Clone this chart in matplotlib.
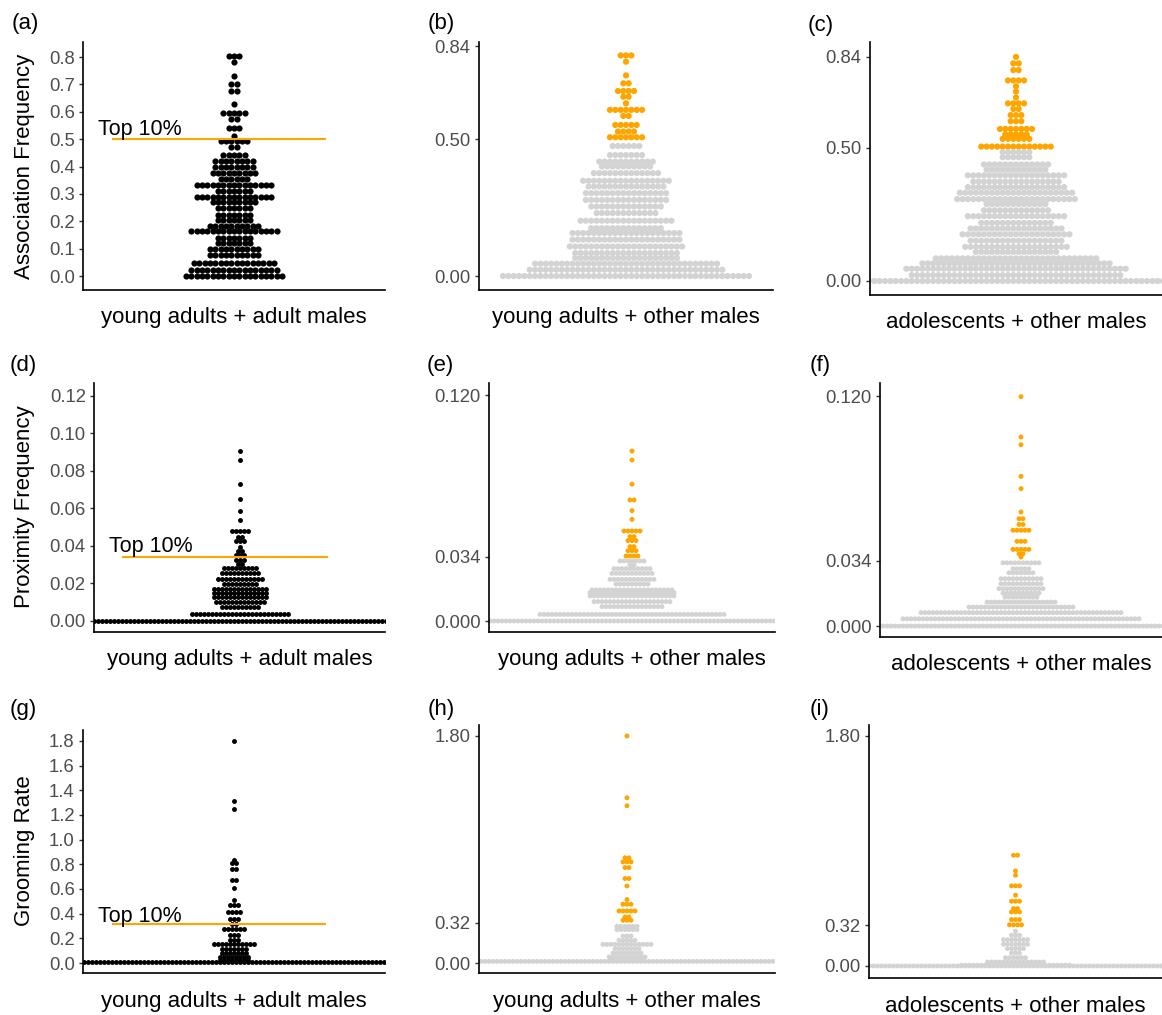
import matplotlib.pyplot as plt
import numpy as np

plt.rcParams['font.family'] = ['Liberation Sans', 'DejaVu Sans']

W, H, DPI = 1162, 1015, 100
ORANGE = '#FFA500'
GREY = '#D3D3D3'

# ---- swarm rows: value of each row and number of dots in it ----
# association frequency
a_levels = [0.805, 0.782, 0.732, 0.703, 0.676, 0.630, 0.597, 0.573, 0.541, 0.512,
            0.493, 0.472, 0.442, 0.420, 0.399, 0.375, 0.353, 0.333, 0.312, 0.290,
            0.270, 0.248, 0.223, 0.203, 0.181, 0.163, 0.138, 0.120, 0.098, 0.077,
            0.047, 0.023, 0.000]
a_counts = [3, 1, 1, 2, 2, 1, 5, 2, 3, 1,
            6, 2, 5, 8, 8, 9, 6, 15, 7, 15,
            9, 7, 7, 7, 10, 17, 7, 7, 10, 10,
            16, 17, 19]

b_levels = [0.806, 0.783, 0.733, 0.704, 0.676, 0.655, 0.631, 0.607, 0.585, 0.552,
            0.528, 0.507, 0.475, 0.442, 0.418, 0.400, 0.376, 0.348, 0.327, 0.303,
            0.278, 0.254, 0.230, 0.202, 0.175, 0.157, 0.133, 0.108, 0.084, 0.066,
            0.045, 0.023, 0.000]
b_counts = [3, 1, 1, 2, 4, 2, 1, 7, 2, 5,
            4, 7, 6, 7, 11, 10, 13, 17, 15, 16,
            16, 14, 12, 18, 14, 21, 21, 22, 20, 20,
            35, 37, 47]

c_levels = [0.840, 0.816, 0.791, 0.752, 0.730, 0.710, 0.688, 0.666, 0.645, 0.622,
            0.599, 0.570, 0.550, 0.533, 0.504, 0.483, 0.464, 0.437, 0.417, 0.396,
            0.373, 0.352, 0.331, 0.307, 0.288, 0.265, 0.243, 0.218, 0.197, 0.175,
            0.151, 0.128, 0.109, 0.085, 0.066, 0.046, 0.022, 0.000]
c_counts = [1, 2, 2, 4, 1, 1, 1, 4, 2, 3,
            3, 7, 5, 6, 14, 6, 6, 13, 12, 19,
            17, 19, 22, 23, 12, 13, 19, 14, 18, 21,
            18, 20, 16, 31, 36, 42, 40, 56]

# proximity frequency
d_levels = [0.0905, 0.0857, 0.0730, 0.0648, 0.0588, 0.0541, 0.0479, 0.0446, 0.0428, 0.0396,
            0.0375, 0.0351, 0.0325, 0.0302, 0.0280, 0.0254, 0.0222, 0.0197, 0.0168, 0.0147,
            0.0130, 0.0103, 0.0076, 0.0036, 0.0000]
d_counts = [1, 1, 1, 1, 1, 1, 5, 2, 3, 1,
            2, 3, 3, 2, 9, 10, 12, 9, 14, 14,
            14, 13, 10, 25, 80]

e_levels = [0.0903, 0.0855, 0.0727, 0.0643, 0.0586, 0.0540, 0.0478, 0.0448, 0.0427, 0.0395,
            0.0373, 0.0345, 0.0319, 0.0297, 0.0278, 0.0253, 0.0221, 0.0196, 0.0165, 0.0150,
            0.0133, 0.0103, 0.0076, 0.0035, 0.0000]
e_counts = [1, 1, 1, 2, 1, 1, 5, 2, 3, 2,
            3, 4, 7, 2, 10, 11, 12, 9, 21, 22,
            22, 20, 16, 47, 80]

f_levels = [0.1197, 0.0986, 0.0946, 0.0781, 0.0717, 0.0595, 0.0560, 0.0530, 0.0500, 0.0442,
            0.0400, 0.0377, 0.0360, 0.0330, 0.0299, 0.0278, 0.0247, 0.0221, 0.0195, 0.0172,
            0.0151, 0.0125, 0.0099, 0.0070, 0.0038, 0.0000]
f_counts = [1, 1, 1, 1, 1, 1, 2, 2, 5, 3,
            5, 2, 1, 10, 5, 7, 11, 11, 12, 10,
            9, 18, 27, 51, 60, 78]

# grooming rate
g_levels = [1.800, 1.313, 1.245, 0.834, 0.807, 0.761, 0.671, 0.612, 0.509, 0.468,
            0.414, 0.360, 0.320, 0.273, 0.230, 0.184, 0.152, 0.116, 0.084, 0.049,
            0.022, 0.010]
g_counts = [1, 1, 1, 1, 2, 2, 2, 1, 1, 3,
            4, 3, 2, 6, 3, 3, 11, 7, 7, 8,
            8, 80]

h_levels = [1.800, 1.310, 1.247, 0.834, 0.802, 0.757, 0.670, 0.611, 0.503, 0.466,
            0.413, 0.365, 0.339, 0.291, 0.265, 0.214, 0.180, 0.148, 0.114, 0.079,
            0.048, 0.034, 0.013]
h_counts = [1, 1, 1, 2, 3, 2, 2, 1, 1, 3,
            5, 2, 3, 6, 6, 3, 5, 13, 7, 8,
            10, 9, 80]

i_levels = [0.867, 0.744, 0.710, 0.627, 0.554, 0.507, 0.449, 0.423, 0.363, 0.322,
            0.272, 0.240, 0.206, 0.170, 0.136, 0.102, 0.065, 0.031, 0.006, 0.000]
i_counts = [2, 1, 1, 3, 1, 3, 2, 3, 3, 4,
            1, 3, 7, 7, 5, 3, 6, 15, 28, 80]

# top 10% cut-offs
assoc_top = 0.50
prox_top = 0.034
groom_top = 0.32

assoc_ticks = [0.0, 0.1, 0.2, 0.3, 0.4, 0.5, 0.6, 0.7, 0.8]
prox_ticks = [0.00, 0.02, 0.04, 0.06, 0.08, 0.10, 0.12]
groom_ticks = [0.0, 0.2, 0.4, 0.6, 0.8, 1.0, 1.2, 1.4, 1.6, 1.8]

xlab_adult = 'young adults + adult males'
xlab_young = 'young adults + other males'
xlab_adol = 'adolescents + other males'

fig = plt.figure(figsize=(W / DPI, H / DPI), dpi=DPI)


def px_axes(left, top, right, bottom):
    '''axes placed by pixel edges of the picture'''
    ax = fig.add_axes([left / W, 1 - bottom / H, (right - left) / W, (bottom - top) / H])
    half = (right - left) / 2
    ax.set_xlim(-half, half)   # x in pixels around the group centre
    return ax


def swarm(ax, levels, counts, step, diam, top=None):
    xs, ys = [], []
    for v, n in zip(levels, counts):
        xs.extend((np.arange(n) - (n - 1) / 2) * step)
        ys.extend([v] * n)
    xs, ys = np.array(xs), np.array(ys)
    if top is None:
        cols = 'black'
    else:
        cols = np.where(ys >= top, ORANGE, GREY)
    ax.scatter(xs, ys, s=(diam * 72 / DPI) ** 2, c=cols, linewidths=0, zorder=2)


def style(ax, ylim, ticks, fmt, xlab):
    ax.set_ylim(*ylim)
    ax.set_yticks(ticks)
    ax.set_yticklabels([fmt.format(t) for t in ticks])
    ax.set_xticks([])
    for s in ['top', 'right']:
        ax.spines[s].set_visible(False)
    for s in ['left', 'bottom']:
        ax.spines[s].set_linewidth(1.2)
    ax.tick_params(axis='y', length=3, width=1.0, pad=3, color='#333333',
                   labelsize=13.3, labelcolor='#4D4D4D')
    ax.annotate(xlab, xy=(0.5, 0), xycoords='axes fraction', xytext=(0, -28 * 0.72),
                textcoords='offset points', ha='center', va='center', fontsize=16)


def top_line(ax, thr, off):
    tr = ax.get_yaxis_transform()
    ax.plot([0.1, 0.8], [thr, thr], transform=tr, color=ORANGE, lw=1.5, zorder=3)
    ax.annotate('Top 10%', xy=(0.05, thr), xycoords=tr, xytext=(0, off * 0.72),
                textcoords='offset points', ha='left', va='center', fontsize=15.5)


# ---- row 1: association ----
ax = px_axes(83, 42, 385, 290)
swarm(ax, a_levels, a_counts, 5.35, 6.2)
style(ax, (-0.051, 0.855), assoc_ticks, '{:.1f}', xlab_adult)
top_line(ax, assoc_top, 10)

ax = px_axes(479, 42, 773, 290)
swarm(ax, b_levels, b_counts, 5.35, 6.2, assoc_top)
style(ax, (-0.051, 0.855), [0.0, 0.5, 0.84], '{:.2f}', xlab_young)

ax = px_axes(870, 42, 1162, 295)
swarm(ax, c_levels, c_counts, 5.35, 6.2, assoc_top)
style(ax, (-0.0525, 0.896), [0.0, 0.5, 0.84], '{:.2f}', xlab_adol)

# ---- row 2: proximity ----
ax = px_axes(94, 383, 385, 632)
swarm(ax, d_levels, d_counts, 4.0, 4.9)
style(ax, (-0.00587, 0.1269), prox_ticks, '{:.2f}', xlab_adult)
top_line(ax, prox_top, 11)

ax = px_axes(489, 383, 775, 632)
swarm(ax, e_levels, e_counts, 4.0, 4.9, prox_top)
style(ax, (-0.00584, 0.1264), [0.0, 0.034, 0.12], '{:.3f}', xlab_young)

ax = px_axes(880, 383, 1162, 637)
swarm(ax, f_levels, f_counts, 4.0, 4.9, prox_top)
style(ax, (-0.0057, 0.1268), [0.0, 0.034, 0.12], '{:.3f}', xlab_adol)

# ---- row 3: grooming ----
ax = px_axes(83, 730, 385, 973)
swarm(ax, g_levels, g_counts, 4.0, 4.9)
style(ax, (-0.081, 1.889), groom_ticks, '{:.1f}', xlab_adult)
top_line(ax, groom_top, 7)

ax = px_axes(479, 725, 775, 973)
swarm(ax, h_levels, h_counts, 4.0, 4.9, groom_top)
style(ax, (-0.079, 1.887), [0.0, 0.32, 1.8], '{:.2f}', xlab_young)

ax = px_axes(869, 725, 1162, 978)
swarm(ax, i_levels, i_counts, 4.0, 4.9, groom_top)
style(ax, (-0.094, 1.886), [0.0, 0.32, 1.8], '{:.2f}', xlab_adol)

# panel tags and y titles
tags = ['(a)', '(b)', '(c)', '(d)', '(e)', '(f)', '(g)', '(h)', '(i)']
tag_x = [12, 428, 808, 10, 427, 810, 10, 428, 810]
tag_y = [23, 23, 26, 365, 366, 366, 710, 710, 710]
for t, x, y in zip(tags, tag_x, tag_y):
    fig.text(x / W, 1 - y / H, t, ha='left', va='center', fontsize=16)

ytitles = ['Association Frequency', 'Proximity Frequency', 'Grooming Rate']
ytitle_y = [166, 507, 851]
for t, y in zip(ytitles, ytitle_y):
    fig.text(25 / W, 1 - y / H, t, rotation=90, ha='center', va='center', fontsize=16)

fig.savefig('out.png', dpi=DPI)
